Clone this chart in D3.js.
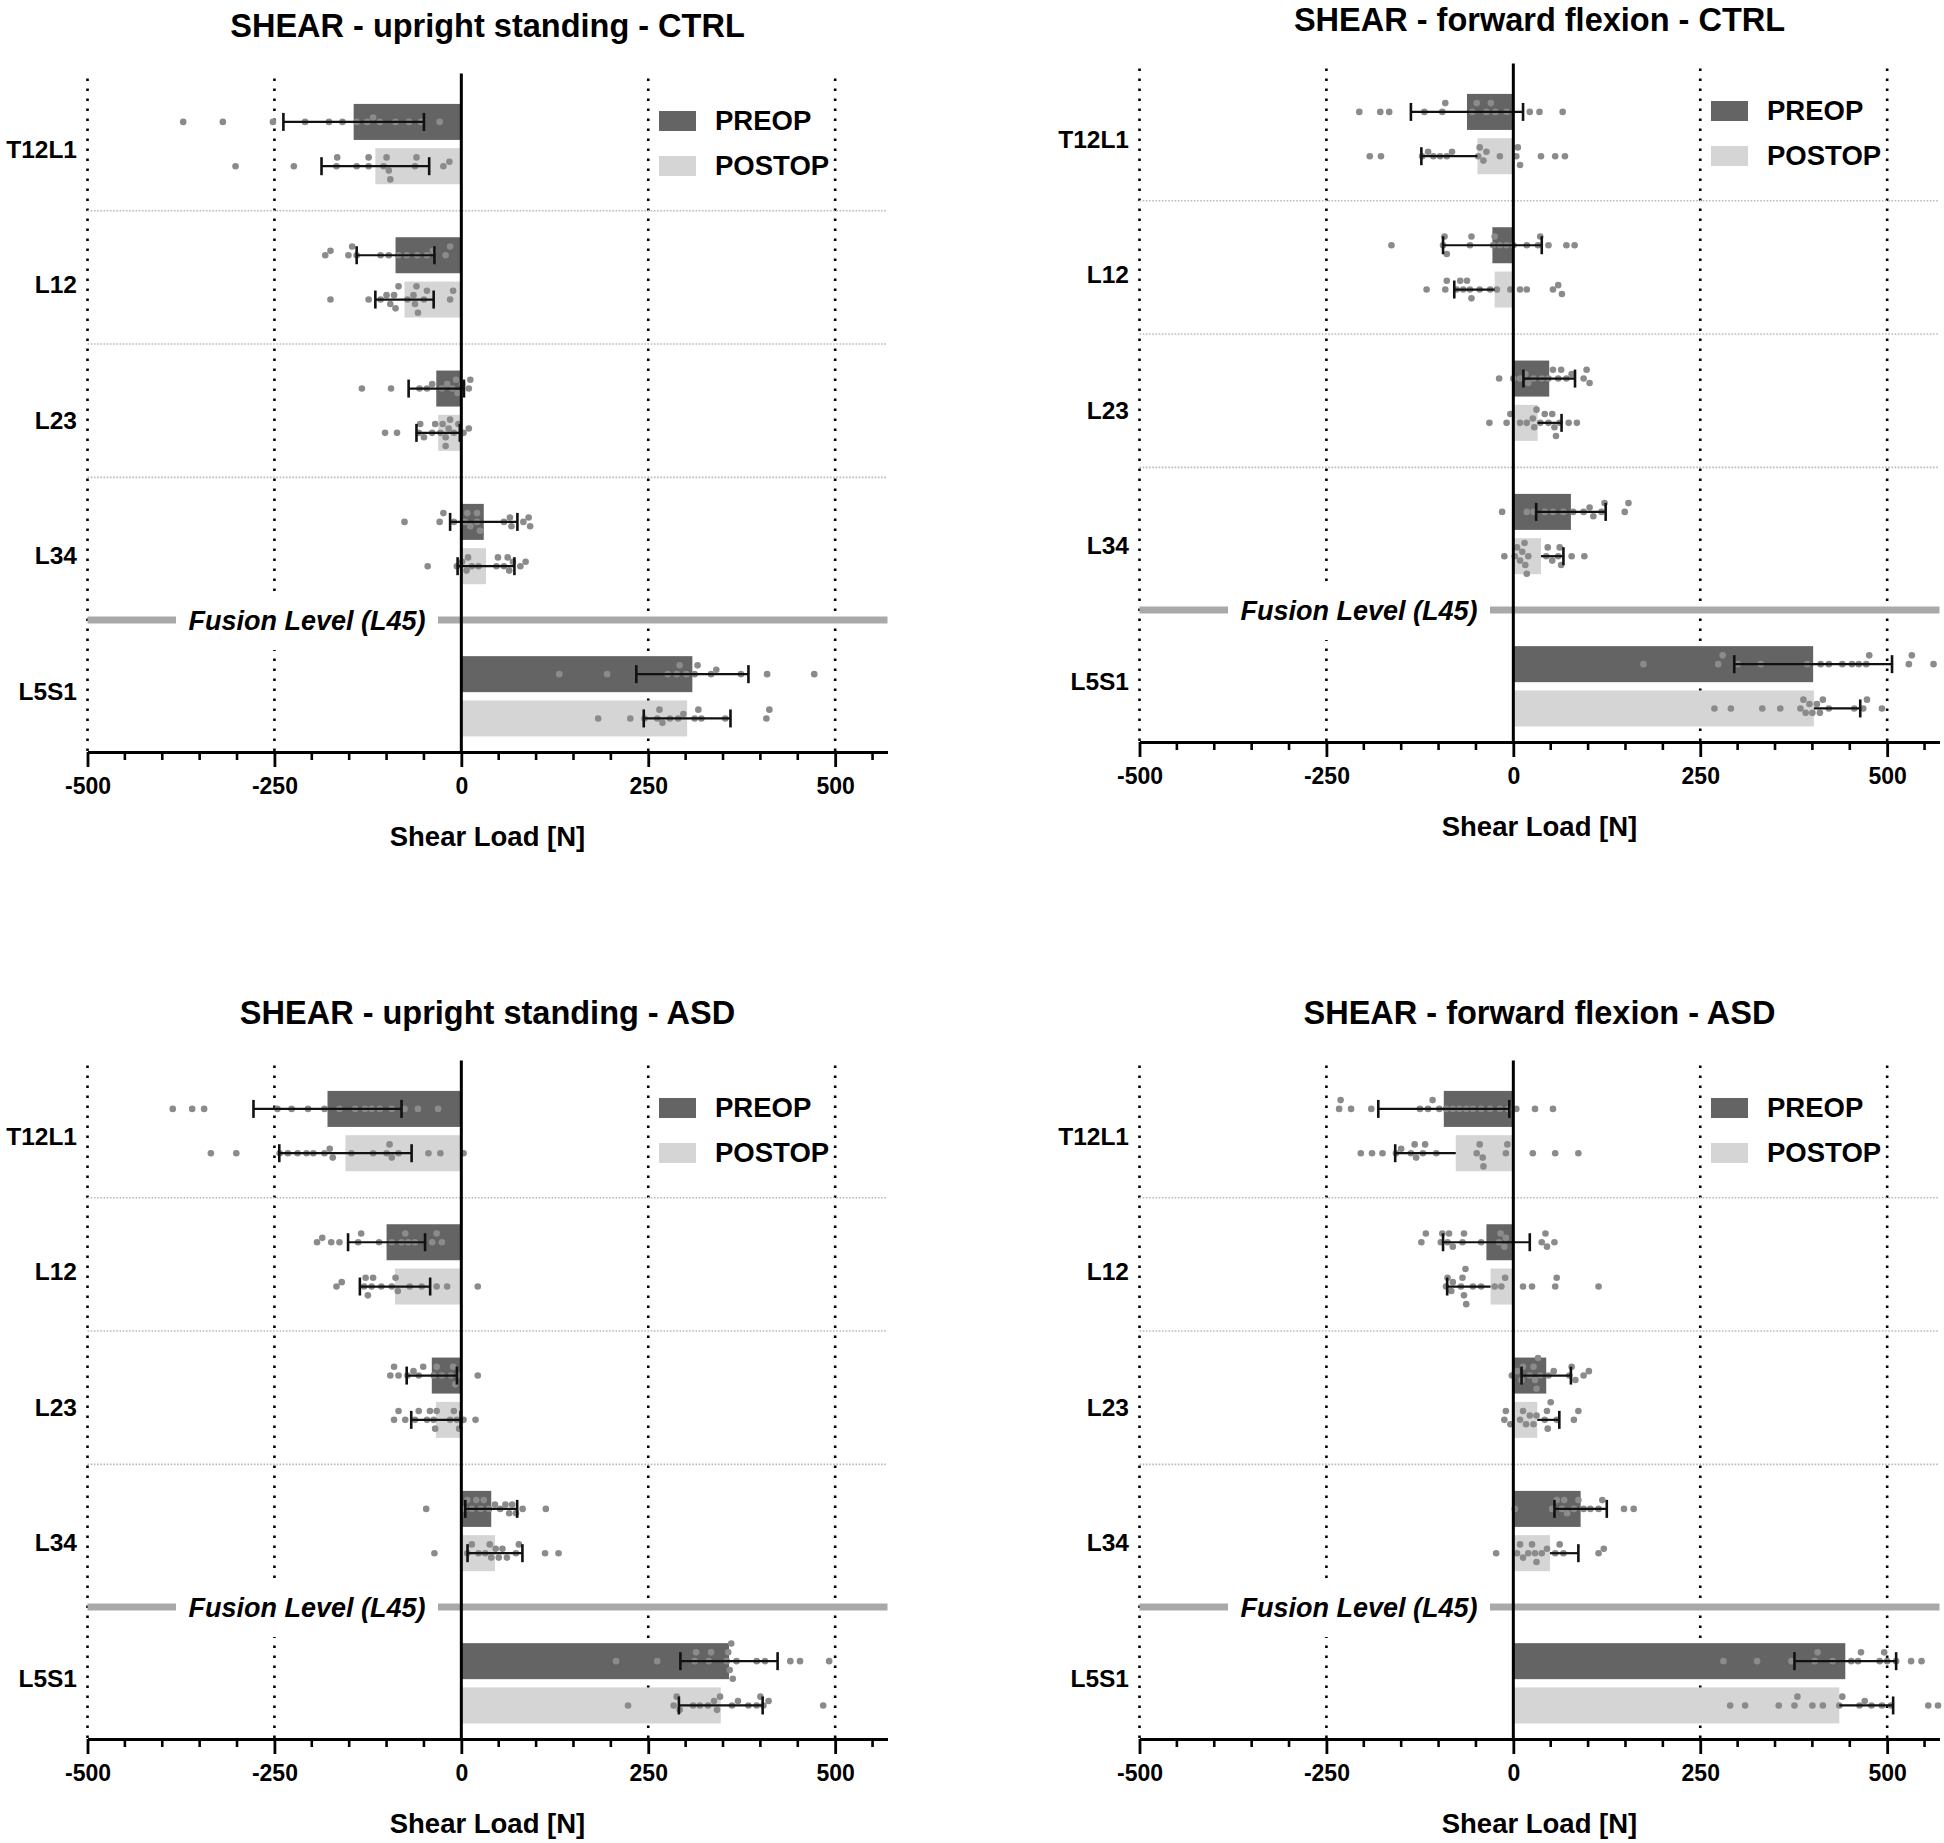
<!DOCTYPE html>
<html><head><meta charset="utf-8">
<script src="https://cdn.jsdelivr.net/npm/d3@7"></script>
<style>
html,body{margin:0;padding:0;background:#fff;}
text{font-family:"Liberation Sans",Arial,sans-serif;font-weight:bold;fill:#000;}
</style></head>
<body><svg id="chart" width="1944" height="1843"></svg>
<script>
// ---------------- DATA ----------------
const categories = ["T12L1", "L12", "L23", "L34", "L5S1"];
const upperCategories = ["T12L1", "L12", "L23", "L34"];
const lowerCategories = ["L5S1"];
const series = ["PREOP", "POSTOP"];
const xTicks = [-500, -250, 0, 250, 500];
const xMinorTicks = [-450,-400,-350,-300,-200,-150,-100,-50,50,100,150,200,300,350,400,450,550];
const xDomain = [-500, 570];
const panelTitles = ["SHEAR - upright standing - CTRL", "SHEAR - forward flexion - CTRL",
                     "SHEAR - upright standing - ASD", "SHEAR - forward flexion - ASD"];
const xLabel = "Shear Load [N]";
const fusionLabel = "Fusion Level (L45)";

// means and SD per category (T12L1, L12, L23, L34, L5S1)
const uprightCtrlPreMean  = [-144, -88, -33.5, 30, 309];
const uprightCtrlPreSD    = [94, 52, 37, 45, 75];
const uprightCtrlPostMean = [-115, -76, -31, 33, 302];
const uprightCtrlPostSD   = [72, 39, 29, 38, 58];

const flexionCtrlPreMean  = [-62, -28, 48, 77, 401];
const flexionCtrlPreSD    = [75, 66, 34.5, 46.5, 105.5];
const flexionCtrlPostMean = [-48, -25, 32.5, 37, 402];
const flexionCtrlPostSD   = [75, 54, 32, 30, 62];

const uprightAsdPreMean   = [-179, -100, -39.5, 40, 358];
const uprightAsdPreSD     = [99, 51.5, 33.6, 34.7, 65];
const uprightAsdPostMean  = [-155, -88.7, -34, 45, 347];
const uprightAsdPostSD    = [88.5, 47, 33, 36.7, 56];

const flexionAsdPreMean   = [-93, -36, 44, 90, 444];
const flexionAsdPreSD     = [87.6, 58, 33, 35, 68];
const flexionAsdPostMean  = [-77, -30.5, 32, 49, 436];
const flexionAsdPostSD    = [81, 58, 29.5, 38, 72];

// individual specimens
const uprightCtrlPreDots = [
  [-372,-319,-252,-209,-177,-159,-140,-126,-118,-109,-88,-70,-54,-29],
  [-182,-175,-151,-146,-140,-108,-97,-84,-73,-59,-46,-38,-21,-15],
  [-133,-94,-56,-46,-39,-26,-19,-12,-7,-5,1,10,12],
  [-76,-29,-24,-10,5,8,12,21,21,25,57,65,67,83,90,92],
  [131,195,276,288,292,301,312,316,334,341,374,409,472]];
const uprightCtrlPostDots = [
  [-302,-224,-167,-166,-140,-124,-124,-104,-100,-97,-95,-62,-60,-24,-16],
  [-175,-124,-108,-100,-95,-90,-88,-84,-72,-64,-62,-60,-58,-50,-46,-15,-11],
  [-102,-86,-57,-55,-50,-39,-35,-28,-25,-21,-21,-17,-15,-10,-4,3,10],
  [-45,-6,1,7,9,14,23,47,49,57,62,64,69,79,86],
  [183,226,245,262,265,269,279,290,297,312,317,321,353,408,412]];
const flexionCtrlPreDots = [
  [-206,-178,-166,-119,-95,-91,-55,-49,-36,-30,-24,-9,22,35,66],
  [-163,-94,-92,-89,-58,-56,-27,-25,-18,-9,0,18,33,36,47,71,82],
  [-19,0,9,16,20,27,38,47,53,60,64,71,78,94,98,102],
  [-15,18,27,42,53,67,80,94,102,107,118,122,149,154],
  [174,274,280,300,331,393,411,422,440,453,462,472,476,529,533,562]];
const flexionCtrlPostDots = [
  [-192,-177,-122,-114,-107,-98,-89,-82,-47,-45,-40,-36,-18,4,6,9,37,56,69],
  [-116,-91,-89,-76,-71,-67,-62,-58,-56,-45,-31,-22,-4,9,18,53,60,65],
  [-32,-9,-4,9,18,26,28,31,36,42,47,52,55,57,62,74,85],
  [-12,2,5,9,12,15,16,18,20,44,46,52,60,62,64,78,95],
  [269,291,333,357,384,388,391,396,400,406,410,414,422,456,468,473,493]];
const uprightAsdPreDots = [
  [-386,-360,-344,-246,-227,-205,-183,-163,-142,-129,-120,-109,-93,-76,-58,-31],
  [-193,-186,-174,-163,-138,-134,-110,-93,-80,-75,-71,-62,-39,-33,-26],
  [-95,-90,-84,-72,-64,-57,-51,-37,-33,-26,-14,-11,-8,-4,22],
  [-47,5,8,14,20,26,30,37,45,52,59,64,68,73,82,113],
  [207,262,312,314,331,334,355,357,359,361,363,368,395,406,440,453,492]];
const uprightAsdPostDots = [
  [-335,-301,-243,-232,-219,-207,-198,-183,-176,-172,-147,-118,-100,-96,-93,-84,-44,-28,3],
  [-167,-160,-130,-128,-125,-120,-118,-107,-93,-88,-85,-69,-53,-33,-19,22],
  [-90,-84,-75,-62,-57,-46,-42,-37,-35,-33,-15,-10,-6,-3,3,19],
  [-36,8,14,23,32,38,40,46,50,55,61,73,77,112,130],
  [223,284,288,292,310,319,330,338,342,346,362,370,384,395,400,404,411,484]];
const flexionAsdPreDots = [
  [-233,-231,-217,-190,-125,-114,-108,-99,-90,-81,-72,-63,-54,-43,-31,-18,-7,4,29,53],
  [-123,-117,-97,-95,-88,-86,-81,-68,-66,-43,-19,-17,-12,-10,38,43,45,55],
  [-2,5,11,13,22,27,29,31,33,36,47,54,75,78,83,94,101],
  [2,52,58,65,68,72,81,87,94,103,114,119,148,161],
  [281,326,372,403,407,427,452,461,465,490,496,500,512,532,546]];
const flexionAsdPostDots = [
  [-204,-189,-175,-157,-150,-137,-132,-130,-121,-118,-103,-49,-45,-41,-40,-10,-8,26,56,87],
  [-90,-88,-83,-81,-70,-68,-66,-64,-63,-54,-43,-25,-16,-11,13,25,56,58,114],
  [-12,-10,-4,9,13,17,22,27,31,42,45,46,50,58,81,87],
  [-23,5,9,13,20,25,29,31,38,45,56,62,67,114,121],
  [290,310,355,376,380,400,414,436,440,463,470,479,493,505,555,568]];

// ---------------- PANELS ----------------
const panels = [
  {title: panelTitles[0], dx: 0, dy: 0, postOneSided: false,
   mean: [uprightCtrlPreMean, uprightCtrlPostMean], sd: [uprightCtrlPreSD, uprightCtrlPostSD],
   dots: [uprightCtrlPreDots, uprightCtrlPostDots]},
  {title: panelTitles[1], dx: 1052, dy: -10, postOneSided: true,
   mean: [flexionCtrlPreMean, flexionCtrlPostMean], sd: [flexionCtrlPreSD, flexionCtrlPostSD],
   dots: [flexionCtrlPreDots, flexionCtrlPostDots]},
  {title: panelTitles[2], dx: 0, dy: 987, postOneSided: false,
   mean: [uprightAsdPreMean, uprightAsdPostMean], sd: [uprightAsdPreSD, uprightAsdPostSD],
   dots: [uprightAsdPreDots, uprightAsdPostDots]},
  {title: panelTitles[3], dx: 1052, dy: 987, postOneSided: true,
   mean: [flexionAsdPreMean, flexionAsdPostMean], sd: [flexionAsdPreSD, flexionAsdPostSD],
   dots: [flexionAsdPreDots, flexionAsdPostDots]}
];

// ---------------- LAYOUT ----------------
const L = {xLeft: 87.5, xRight: 887.5, yTop: 77.4, upperEnd: 610.7, lowerStart: 640.6, axisY: 752,
           fusionY: 620, labelTop: 148.5, labelBottom: 691};
const colors = {PREOP: "#646464", POSTOP: "#d5d5d5", dot: "#8b8b8b", fusion: "#a9a9a9", sep: "#b9b9b9"};

const svg = d3.select("#chart");

const x = d3.scaleLinear().domain(xDomain).range([L.xLeft, L.xRight]);
const yUpper = d3.scaleBand().domain(upperCategories).range([L.yTop, L.upperEnd]);
const yLower = d3.scaleBand().domain(lowerCategories).range([L.lowerStart, L.axisY]);
const yCat = c => upperCategories.includes(c) ? yUpper(c) + yUpper.bandwidth() / 2 : yLower(c) + yLower.bandwidth() / 2;
const ySub = d3.scaleBand().domain(series).range([-40.15, 40.15]).paddingInner(0.187);
const yLabel = d3.scalePoint().domain(categories).range([L.labelTop, L.labelBottom]);
const color = d3.scaleOrdinal().domain(series).range([colors.PREOP, colors.POSTOP]);

function swarm(vals, cy) {
  const r = 3.3, minD = 6.4, step = 4.4;
  const placed = [];
  vals.slice().sort((a, b) => a - b).forEach(v => {
    const px = x(v);
    for (let k = 0; k < 40; k++) {
      const off = k === 0 ? 0 : (k % 2 ? -1 : 1) * Math.ceil(k / 2) * step;
      if (placed.every(p => (p.x - px) ** 2 + (p.y - off) ** 2 >= minD * minD)) {
        placed.push({x: px, y: off, v});
        break;
      }
    }
  });
  return placed.map(p => ({x: p.x, y: cy + p.y, r}));
}

panels.forEach(P => {
  const g = svg.append("g").attr("transform", `translate(${P.dx},${P.dy})`);

  // title (kept inside the page at the top edge)
  g.append("text").attr("x", (L.xLeft + L.xRight) / 2).attr("y", Math.max(37, 30.5 - P.dy))
    .attr("text-anchor", "middle").style("font-size", "32.5px").text(P.title);

  // vertical dotted grid lines
  g.selectAll("line.vgrid").data(xTicks.filter(t => t !== 0)).join("line")
    .attr("class", "vgrid").attr("x1", d => x(d)).attr("x2", d => x(d))
    .attr("y1", L.yTop + 1).attr("y2", L.axisY)
    .attr("stroke", "#000").attr("stroke-width", 2.6).attr("stroke-dasharray", "2.6,7.4");

  // category separators
  g.selectAll("line.sep").data(upperCategories.slice(1)).join("line")
    .attr("class", "sep").attr("x1", L.xLeft).attr("x2", L.xRight)
    .attr("y1", d => yUpper(d)).attr("y2", d => yUpper(d))
    .attr("stroke", colors.sep).attr("stroke-width", 1.6).attr("stroke-dasharray", "1.6,1.6");

  // fusion line
  g.append("line").attr("x1", L.xLeft).attr("x2", L.xRight).attr("y1", L.fusionY).attr("y2", L.fusionY)
    .attr("stroke", colors.fusion).attr("stroke-width", 7);
  g.append("rect").attr("x", 176).attr("y", L.fusionY - 28).attr("width", 262).attr("height", 58).attr("fill", "#fff");
  g.append("text").attr("x", 307).attr("y", L.fusionY + 10).attr("text-anchor", "middle")
    .style("font-size", "27px").style("font-style", "italic").text(fusionLabel);

  // bars
  series.forEach((s, si) => {
    g.selectAll(null).data(categories).join("rect")
      .attr("x", (c, i) => Math.min(x(0), x(P.mean[si][i])))
      .attr("width", (c, i) => Math.abs(x(P.mean[si][i]) - x(0)))
      .attr("y", c => yCat(c) + ySub(s))
      .attr("height", ySub.bandwidth())
      .attr("fill", color(s));
  });

  // dots
  series.forEach((s, si) => {
    categories.forEach((c, i) => {
      const cy = yCat(c) + ySub(s) + ySub.bandwidth() / 2;
      g.selectAll(null).data(swarm(P.dots[si][i], cy)).join("circle")
        .attr("cx", d => d.x).attr("cy", d => d.y).attr("r", d => d.r).attr("fill", colors.dot);
    });
  });

  // error bars
  series.forEach((s, si) => {
    categories.forEach((c, i) => {
      const m = P.mean[si][i], sd = P.sd[si][i];
      const cy = yCat(c) + ySub(s) + ySub.bandwidth() / 2;
      const oneSided = si === 1 && P.postOneSided;
      const sign = m < 0 ? -1 : 1;
      const ends = oneSided ? [m, m + sign * sd] : [m - sd, m + sd];
      g.append("line").attr("x1", x(ends[0])).attr("x2", x(ends[1])).attr("y1", cy).attr("y2", cy)
        .attr("stroke", "#111").attr("stroke-width", 2.2);
      const caps = oneSided ? [ends[1]] : ends;
      caps.forEach(v => g.append("line").attr("x1", x(v)).attr("x2", x(v))
        .attr("y1", cy - 9).attr("y2", cy + 9).attr("stroke", "#111").attr("stroke-width", 2.6));
    });
  });

  // zero line
  g.append("line").attr("x1", x(0)).attr("x2", x(0)).attr("y1", L.yTop - 4).attr("y2", L.axisY)
    .attr("stroke", "#000").attr("stroke-width", 3);

  // category labels
  g.selectAll("text.cat").data(categories).join("text").attr("class", "cat")
    .attr("x", 77).attr("y", d => yLabel(d) + 9).attr("text-anchor", "end")
    .style("font-size", "24.5px").text(d => d);

  // x axis
  const axisG = g.append("g").attr("transform", `translate(0,${L.axisY})`);
  axisG.call(d3.axisBottom(x).tickValues(xTicks).tickFormat(d => String(d))
    .tickSize(15).tickSizeOuter(0).tickPadding(11));
  axisG.select(".domain").attr("stroke-width", 3.2);
  axisG.selectAll(".tick line").attr("stroke-width", 2.8);
  axisG.selectAll(".tick text").style("font-size", "23px").style("font-family", "Liberation Sans, Arial, sans-serif").style("font-weight", "bold");
  axisG.selectAll("line.minor").data(xMinorTicks).join("line").attr("class", "minor")
    .attr("x1", d => x(d)).attr("x2", d => x(d)).attr("y1", 0).attr("y2", 8)
    .attr("stroke", "#000").attr("stroke-width", 2.6);

  g.append("text").attr("x", (L.xLeft + L.xRight) / 2).attr("y", 846).attr("text-anchor", "middle")
    .style("font-size", "27.5px").text(xLabel);

  // legend
  series.forEach((s, si) => {
    g.append("rect").attr("x", 659).attr("y", 111 + si * 45).attr("width", 37).attr("height", 20).attr("fill", color(s));
    g.append("text").attr("x", 715).attr("y", 130 + si * 45).style("font-size", "27.5px").text(s);
  });
});
</script>
</body></html>
